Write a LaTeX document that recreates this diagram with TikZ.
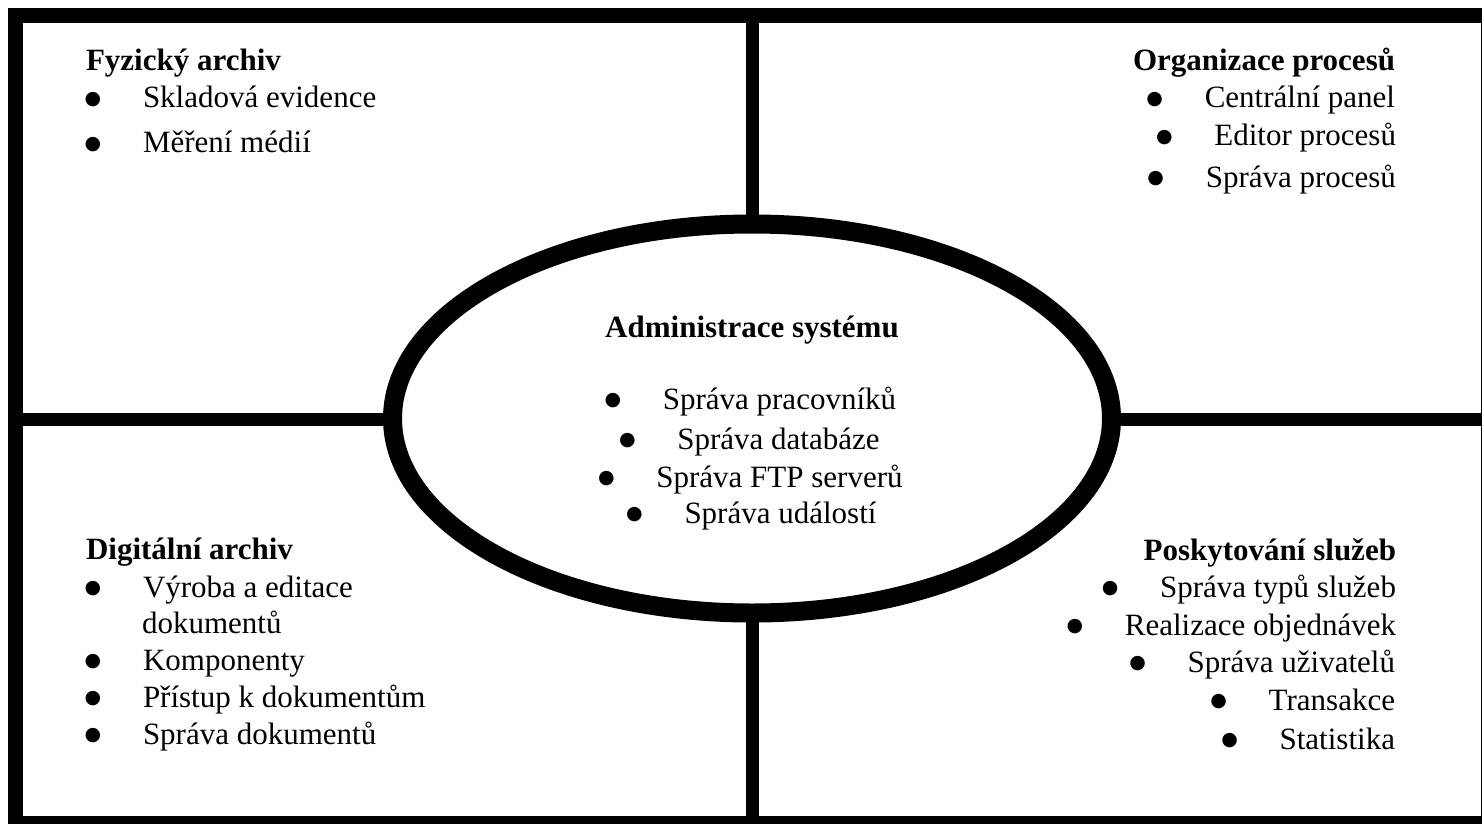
\documentclass[tikz,border=0pt]{standalone}
\usepackage{fontspec}
\setmainfont{Liberation Serif}
\newfontfamily\symfont{DejaVu Sans}
\newcommand\bu{\raisebox{1.8pt}{\symfont\fontsize{9.5pt}{10pt}\selectfont ●}}
\newcommand\bitem[1]{\makebox[0pt]{\bu}\hspace{25pt}#1}
\begin{document}
\begin{tikzpicture}[x=0.5pt,y=-0.5pt,
  every node/.style={inner sep=0pt,outer sep=0pt,font=\fontsize{15.5pt}{18pt}\selectfont},
  heading/.style={font=\fontsize{15.5pt}{18pt}\selectfont\bfseries},
  lft/.style={anchor=base west},
  rgt/.style={anchor=base east},
  ctr/.style={anchor=base},
  bar/.style={fill=black}]
\useasboundingbox (0,0) rectangle (1482,824);
% frame
\fill[bar] (8,8) rectangle (1481.5,23);
\fill[bar] (8,8) rectangle (23,824);
\fill[bar] (8,816) rectangle (1482,824);
\fill[bar] (1480.5,8) rectangle (1482,824);
% dividers
\fill[bar] (745.5,23) rectangle (758.5,816);
\fill[bar] (23,412.8) rectangle (1482,425.8);
% ellipse
\draw[line width=9.5pt,fill=white] (752,418.5) ellipse [x radius=179.75pt, y radius=97.25pt];
% top left
\node[heading,lft] (fa) at (86,71) {Fyzický archiv};
\node[lft] (fa1) at (93,108) {\bitem{Skladová evidence}};
\node[lft] (fa2) at (93,153) {\bitem{Měření médií}};
% top right
\node[heading,rgt] (op) at (1395,71) {Organizace procesů};
\node[rgt] (op1) at (1395,108) {\bitem{Centrální panel}};
\node[rgt] (op2) at (1396,146) {\bitem{Editor procesů}};
\node[rgt] (op3) at (1396,187) {\bitem{Správa procesů}};
% centre
\node[heading,ctr] (as) at (752,337) {Administrace systému};
\node[ctr] (as1) at (754.5,409) {\bitem{Správa pracovníků}};
\node[ctr] (as2) at (753.5,449) {\bitem{Správa databáze}};
\node[ctr] (as3) at (754.5,487) {\bitem{Správa FTP serverů}};
\node[ctr] (as4) at (755.5,523) {\bitem{Správa událostí}};
% bottom left
\node[heading,lft] (da) at (86,559) {Digitální archiv};
\node[lft] (da1) at (93,597) {\bitem{Výroba a editace}};
\node[lft] (da1b) at (142,633) {dokumentů};
\node[lft] (da2) at (93,670) {\bitem{Komponenty}};
\node[lft] (da3) at (93,707) {\bitem{Přístup k dokumentům}};
\node[lft] (da4) at (93,744) {\bitem{Správa dokumentů}};
% bottom right
\node[heading,rgt] (ps) at (1396,560) {Poskytování služeb};
\node[rgt] (ps1) at (1396,597) {\bitem{Správa typů služeb}};
\node[rgt] (ps2) at (1396,635) {\bitem{Realizace objednávek}};
\node[rgt] (ps3) at (1395,672) {\bitem{Správa uživatelů}};
\node[rgt] (ps4) at (1395,710) {\bitem{Transakce}};
\node[rgt] (ps5) at (1395,749) {\bitem{Statistika}};
\end{tikzpicture}
\end{document}
